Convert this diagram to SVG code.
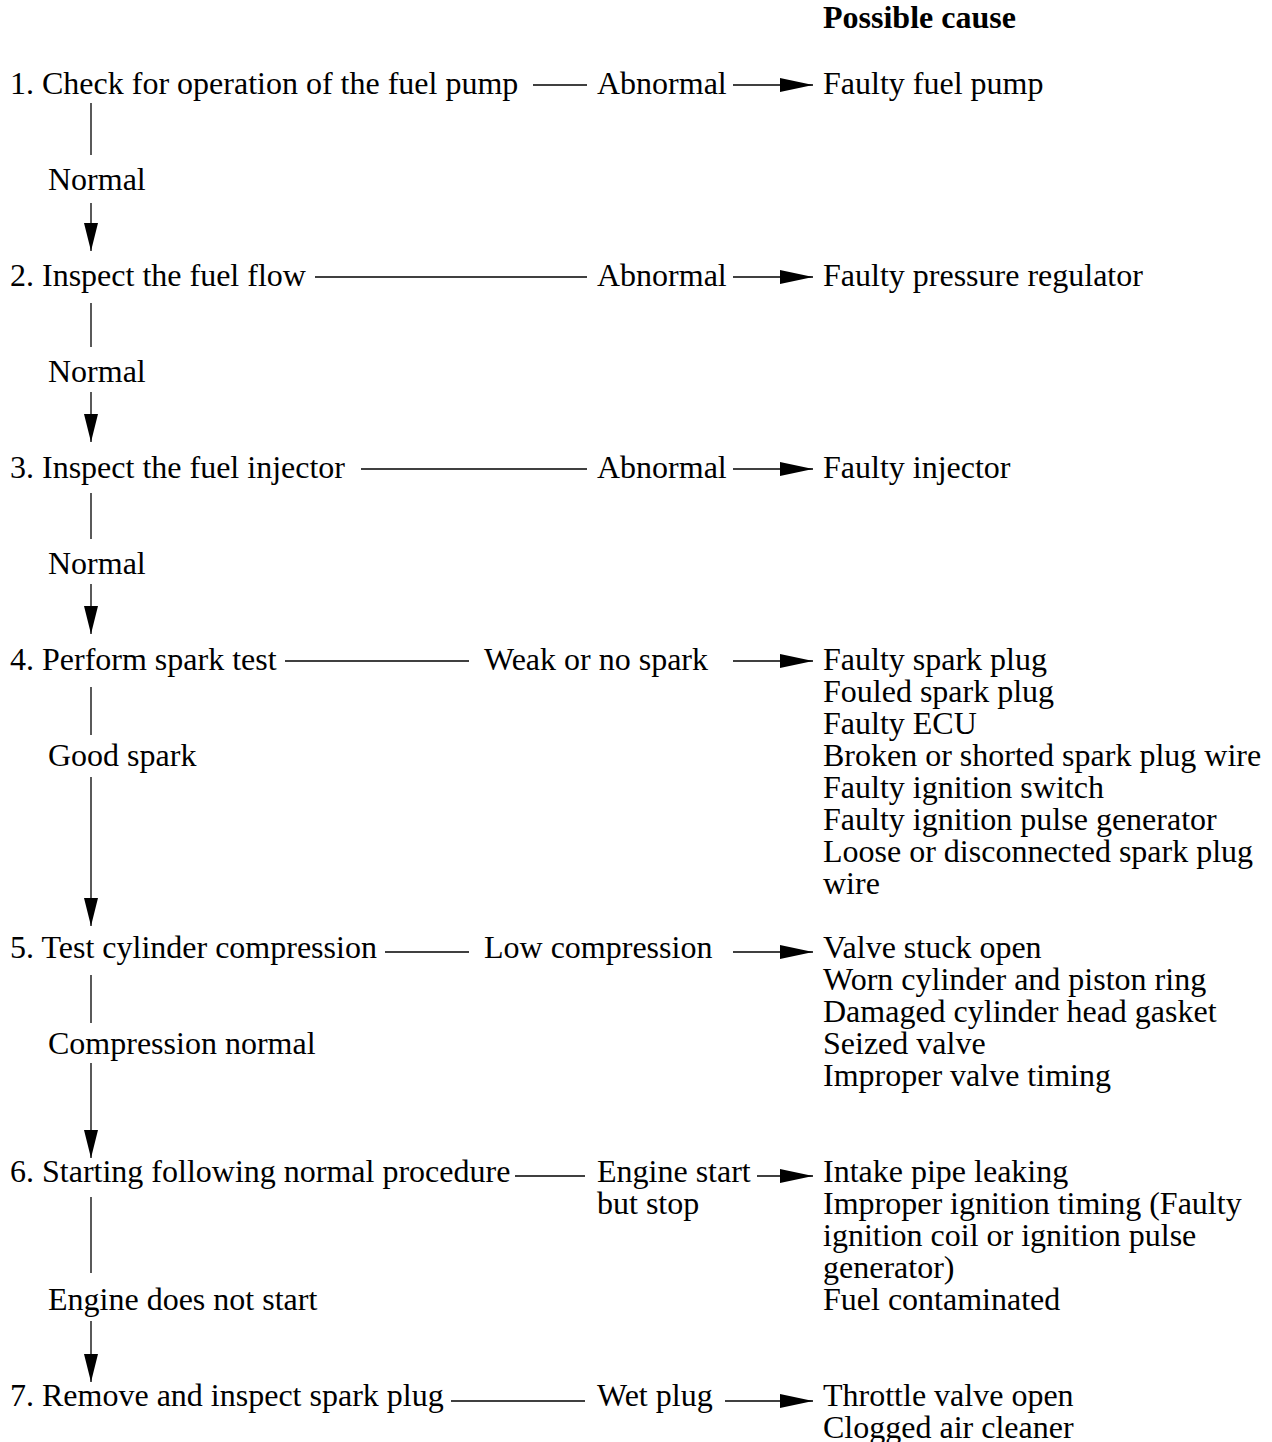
<svg xmlns="http://www.w3.org/2000/svg" width="1272" height="1442" viewBox="0 0 1272 1442">
<style>
text{font-family:"Liberation Serif","Times New Roman",serif;font-size:32px;fill:#000}
.b{font-weight:bold}
line{stroke:#000;stroke-width:1.3}
</style>
<defs>
<marker id="ah" viewBox="0 0 33 14" refX="33" refY="7" markerWidth="33" markerHeight="14" markerUnits="userSpaceOnUse" orient="auto"><path d="M0,0L33,7L0,14Z" fill="#000"/></marker>
<marker id="av" viewBox="0 0 28 14" refX="28" refY="7" markerWidth="28" markerHeight="14" markerUnits="userSpaceOnUse" orient="auto"><path d="M0,0L28,7L0,14Z" fill="#000"/></marker>
</defs>
<rect width="1272" height="1442" fill="#fff"/>
<text class="b" x="823" y="28">Possible cause</text>
<g id="step1"><text x="10" y="94">1. Check for operation of the fuel pump</text></g>
<g id="step2"><text x="10" y="286">2. Inspect the fuel flow</text></g>
<g id="step3"><text x="10" y="478">3. Inspect the fuel injector</text></g>
<g id="step4"><text x="10" y="670">4. Perform spark test</text></g>
<g id="step5"><text x="10" y="958">5. Test cylinder compression</text></g>
<g id="step6"><text x="10" y="1182">6. Starting following normal procedure</text></g>
<g id="step7"><text x="10" y="1406">7. Remove and inspect spark plug</text></g>
<g id="cond-labels">
<text x="48" y="190">Normal</text>
<text x="48" y="382">Normal</text>
<text x="48" y="574">Normal</text>
<text x="48" y="766">Good spark</text>
<text x="48" y="1054">Compression normal</text>
<text x="48" y="1310">Engine does not start</text>
<text x="597" y="94">Abnormal</text>
<text x="597" y="286">Abnormal</text>
<text x="597" y="478">Abnormal</text>
<text x="484" y="670">Weak or no spark</text>
<text x="484" y="958">Low compression</text>
<text x="597" y="1182">Engine start</text>
<text x="597" y="1214">but stop</text>
<text x="597" y="1406">Wet plug</text>
</g>
<g id="cause1"><text x="823" y="94">Faulty fuel pump</text></g>
<g id="cause2"><text x="823" y="286">Faulty pressure regulator</text></g>
<g id="cause3"><text x="823" y="478">Faulty injector</text></g>
<g id="cause4">
<text x="823" y="670">Faulty spark plug</text>
<text x="823" y="702">Fouled spark plug</text>
<text x="823" y="734">Faulty ECU</text>
<text x="823" y="766">Broken or shorted spark plug wire</text>
<text x="823" y="798">Faulty ignition switch</text>
<text x="823" y="830">Faulty ignition pulse generator</text>
<text x="823" y="862">Loose or disconnected spark plug</text>
<text x="823" y="894">wire</text>
</g>
<g id="cause5">
<text x="823" y="958">Valve stuck open</text>
<text x="823" y="990">Worn cylinder and piston ring</text>
<text x="823" y="1022">Damaged cylinder head gasket</text>
<text x="823" y="1054">Seized valve</text>
<text x="823" y="1086">Improper valve timing</text>
</g>
<g id="cause6">
<text x="823" y="1182">Intake pipe leaking</text>
<text x="823" y="1214">Improper ignition timing (Faulty</text>
<text x="823" y="1246">ignition coil or ignition pulse</text>
<text x="823" y="1278">generator)</text>
<text x="823" y="1310">Fuel contaminated</text>
</g>
<g id="cause7">
<text x="823" y="1406">Throttle valve open</text>
<text x="823" y="1438">Clogged air cleaner</text>
</g>
<g id="connectors">
<line x1="91" y1="103" x2="91" y2="155"/>
<line x1="91" y1="203" x2="91" y2="251" marker-end="url(#av)"/>
<line x1="91" y1="303" x2="91" y2="347"/>
<line x1="91" y1="392" x2="91" y2="442" marker-end="url(#av)"/>
<line x1="91" y1="493" x2="91" y2="539"/>
<line x1="91" y1="584" x2="91" y2="634" marker-end="url(#av)"/>
<line x1="91" y1="687" x2="91" y2="735"/>
<line x1="91" y1="777" x2="91" y2="926" marker-end="url(#av)"/>
<line x1="91" y1="975" x2="91" y2="1023"/>
<line x1="91" y1="1063" x2="91" y2="1158" marker-end="url(#av)"/>
<line x1="91" y1="1197" x2="91" y2="1273"/>
<line x1="91" y1="1321" x2="91" y2="1382" marker-end="url(#av)"/>
<line x1="533" y1="85" x2="587" y2="85"/>
<line x1="733" y1="85" x2="813" y2="85" marker-end="url(#ah)"/>
<line x1="315" y1="277" x2="587" y2="277"/>
<line x1="733" y1="277" x2="813" y2="277" marker-end="url(#ah)"/>
<line x1="361" y1="469" x2="587" y2="469"/>
<line x1="733" y1="469" x2="813" y2="469" marker-end="url(#ah)"/>
<line x1="285" y1="661" x2="469" y2="661"/>
<line x1="733" y1="661" x2="813" y2="661" marker-end="url(#ah)"/>
<line x1="385" y1="952" x2="469" y2="952"/>
<line x1="733" y1="952" x2="813" y2="952" marker-end="url(#ah)"/>
<line x1="515" y1="1176" x2="585" y2="1176"/>
<line x1="757" y1="1176" x2="813" y2="1176" marker-end="url(#ah)"/>
<line x1="451" y1="1401" x2="585" y2="1401"/>
<line x1="725" y1="1401" x2="813" y2="1401" marker-end="url(#ah)"/>
</g>
</svg>
